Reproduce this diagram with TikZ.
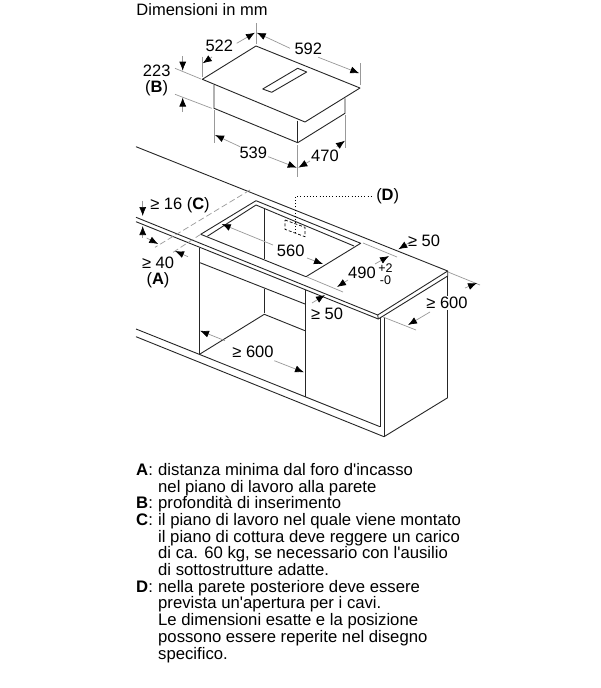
\documentclass[tikz,border=0pt]{standalone}
\usepackage{fontspec}
\setmainfont{Liberation Sans}[Ligatures=TeXOff]
\usetikzlibrary{arrows.meta}
\definecolor{dimgray}{gray}{0.6}
\newcommand{\leglab}[1]{\makebox[22pt][l]{\textbf{#1}:}}
\tikzset{
  x=1pt,y=-1pt,
  edge/.style={draw=black!85,line width=0.9pt,line join=round},
  dimline/.style={draw=dimgray,line width=0.7pt},
  dimarrow/.style={draw=dimgray,line width=0.7pt,-{Latex[length=9pt,width=7pt,black]}},
  lab/.style={inner sep=0pt,font=\fontsize{16.5}{16.5}\selectfont},
  sublab/.style={inner sep=0pt,font=\fontsize{12.5}{12.5}\selectfont},
  bodytext/.style={inner sep=0pt,anchor=north west,align=left,font=\fontsize{16.7}{16.7}\selectfont}
}
\begin{document}
\begin{tikzpicture}
\useasboundingbox (0,0) rectangle (600,688);
\fill[white] (0,0) rectangle (600,688);
% hob
\draw[edge] (256,46)--(360,88)--(305,122)--(202.3,79.3)--cycle;
\draw[edge] (297.7,68.3)--(306.7,72)--(271.7,92.3)--(262.7,89)--cycle;
\draw[edge] (214,85)--(214,108.3)--(297.7,142.7)--(345,113.3)--(345,98.3);
\draw[edge] (297.7,120.7)--(297.7,142.7);
% hob extension lines
\draw[dimline] (202.3,56.7)--(202.3,77);
\draw[dimline] (256,23.3)--(256,44);
\draw[dimline] (360,63.3)--(360,85);
\draw[dimline] (175,68.3)--(201,79);
\draw[dimline] (175,94.3)--(211.7,108.3);
\draw[dimline] (214,110)--(214,143);
\draw[dimline] (297.7,145)--(297.7,176.7);
\draw[dimline] (345,115)--(345,148);
\draw[dimarrow] (212,57)--(202.7,63.3);
\draw[dimarrow] (236.7,43.3)--(255,32.7);
\draw[dimarrow] (290,48.3)--(256.7,32.7);
\draw[dimarrow] (318.3,57.3)--(359.3,73.3);
\draw[dimarrow] (182.7,56)--(182.7,70.7);
\draw[dimarrow] (182.7,111.7)--(182.7,97.5);
\draw[dimarrow] (240,146.7)--(215,135);
\draw[dimarrow] (268.3,156.7)--(296.7,167.7);
\draw[dimarrow] (310,161)--(298.3,167.7);
\draw[dimarrow] (336.7,146.7)--(345,140.7);
\node[lab] (t0) at (202,10) {Dimensioni in mm};
\node[lab] (t1) at (219.3,46) {522};
\node[lab] (t2) at (308.3,49.3) {592};
\node[lab] (t3) at (156.7,71) {223};
\node[lab] (t4) at (156.7,88) {(\textbf{B})};
\node[lab] (t5) at (253.3,152.7) {539};
\node[lab] (t6) at (325,155.7) {470};
% counter
\draw[edge] (136,146.7)--(447.7,271)--(377.7,315)--(136,217.3);
\draw[edge] (136,221.7)--(378.3,319)--(447.7,276)--(447.7,271);
\draw[edge] (377.7,315)--(378.3,319);
% cutout
\draw[edge] (256,200.7)--(360.7,243.3)--(306,276.7)--(200.7,234.3)--cycle;
\draw[edge] (256,205)--(354,246);
\draw[edge] (256,205)--(207.3,236.3);
\draw[edge] (264.3,209.3)--(264.3,259.3);
% cabinet
\draw[edge] (199.5,247.5)--(199.5,354.3);
\draw[edge] (200,262.7)--(305,304);
\draw[edge] (305,290)--(305,396.7);
\draw[edge] (264.3,289.3)--(264.3,313.3);
\draw[edge] (199.5,354.3)--(264.3,314.3)--(305,330.7);
\draw[edge] (380,316.7)--(380,426.7);
\draw[edge] (384,316.7)--(384,436.7);
\draw[edge] (447.7,276)--(447.7,397.7);
\draw[edge] (384,436.7)--(447.7,397.7);
\draw[edge] (136,329)--(380,426.7);
\draw[edge] (136,336.7)--(384,436.7);
% D
\draw[line width=0.9pt,dash pattern=on 1pt off 2.2pt] (295,233)--(295,196.7)--(371.7,196.7);
\draw[dash pattern=on 3pt off 2pt,line width=0.7pt] (285,220)--(305,227.3)--(305,236.7)--(285,229.3)--cycle;
\node[lab] (t7) at (387.7,196.7) {(\textbf{D})};
% lower dims
\draw[dimline,dash pattern=on 6pt off 3pt] (250,190)--(155,247.3);
\draw[dimline,dash pattern=on 6pt off 3pt] (200.7,234.3)--(172,253);
\draw[dimarrow] (142.7,200.7)--(142.7,216);
\draw[dimarrow] (142.7,238)--(142.7,226);
\draw[dimarrow] (146.7,238)--(158.3,244);
\draw[dimarrow] (188,256.7)--(175,251);
\draw[dimarrow] (273,245)--(221.7,224);
\draw[dimarrow] (307,258)--(323,264);
\draw[dimline] (363,243)--(397,257);
\draw[dimline] (307,277)--(343,292);
\draw[dimarrow] (375,264)--(389,256);
\draw[dimarrow] (348,280)--(337,287);
\draw[dimarrow] (412,241)--(398.3,249.3);
\draw[dimarrow] (312,303)--(325,295);
\draw[dimline] (448,272)--(480,285);
\draw[dimline] (383,317)--(416,330);
\draw[dimarrow] (430,312)--(408,325);
\draw[dimarrow] (465,288)--(477,283);
\draw[dimarrow] (225,340.7)--(200,330.7);
\draw[dimarrow] (274.3,360.7)--(304,372.3);
\node[lab] (t8) at (180,205.7) {≥ 16 (\textbf{C})};
\node[lab] (t9) at (158,263) {≥ 40};
\node[lab] (t10) at (158,280) {(\textbf{A})};
\node[lab] (t11) at (290.7,250.7) {560};
\node[lab] (t12) at (424,241) {≥ 50};
\node[lab] (t13) at (327,314) {≥ 50};
\node[lab,fill=white,inner sep=1pt] (t14) at (447,303) {≥ 600};
\node[lab] (t15) at (253,352) {≥ 600};
\node[lab] (t16) at (362,273) {490};
\node[sublab] (t17) at (385.5,268) {+2};
\node[sublab] (t18) at (385.5,280) {-0};
% legend
\node[bodytext] (leg) at (136,463) {\leglab{A}distanza minima dal foro d'incasso\\
\hspace*{22pt}nel piano di lavoro alla parete\\
\leglab{B}profondità di inserimento\\
\leglab{C}il piano di lavoro nel quale viene montato\\
\hspace*{22pt}il piano di cottura deve reggere un carico\\
\hspace*{22pt}di ca. 60 kg, se necessario con l'ausilio\\
\hspace*{22pt}di sottostrutture adatte.\\
\leglab{D}nella parete posteriore deve essere\\
\hspace*{22pt}prevista un'apertura per i cavi.\\
\hspace*{22pt}Le dimensioni esatte e la posizione\\
\hspace*{22pt}possono essere reperite nel disegno\\
\hspace*{22pt}specifico.};
\end{tikzpicture}
\end{document}
